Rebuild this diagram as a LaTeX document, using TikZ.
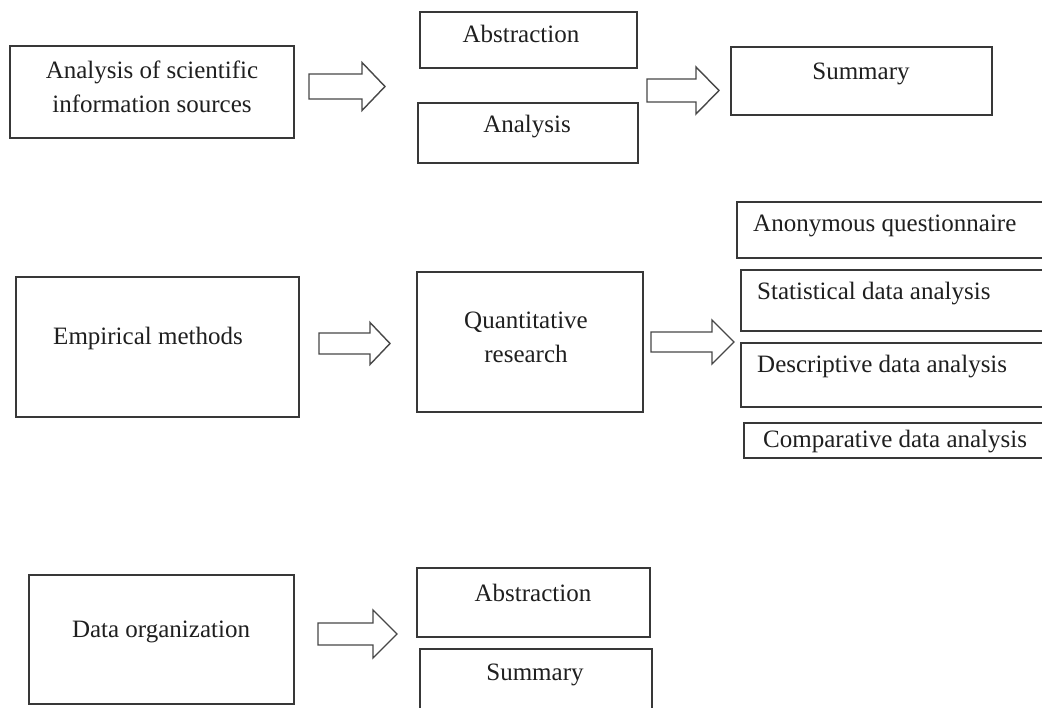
\documentclass[tikz,border=0pt]{standalone}
\usepackage{fontspec}
\setmainfont{Liberation Serif}
\usetikzlibrary{fit}
\tikzset{
  box/.style={draw=black!78, line width=1.3pt, inner sep=0pt, fill=none},
  lbl/.style={anchor=base, inner sep=0pt, font=\fontsize{25}{33}\selectfont, text=black!88},
  lbl2/.style={anchor=center, inner sep=0pt, align=center, font=\fontsize{25}{34}\selectfont, text=black!88},
  barrow/.style={draw=black!72, line width=1.4pt, line join=miter, fill=white},
}
% \blockarrow{x0}{xbase}{xtip}{ycenter}{shaft half}{head half}
\newcommand\blockarrow[6]{%
  \draw[barrow] (#1,#4-#5) -- (#2,#4-#5) -- (#2,#4-#6) -- (#3,#4) -- (#2,#4+#6) -- (#2,#4+#5) -- (#1,#4+#5) -- cycle;}
\begin{document}
\begin{tikzpicture}[x=1pt,y=-1pt]
\useasboundingbox (0,0) rectangle (1042,708);
\clip (0,0) rectangle (1042,708);
\fill[white] (0,0) rectangle (1042,708);

% row 1
\node[box, fit={(10,46) (294,138)}] (src) {};
\node[lbl2] (srct) at (152,86.5) {Analysis of scientific\\information sources};
\node[box, fit={(420,12) (637,68)}] (abs1) {};
\node[lbl] (abs1t) at (521,43) {Abstraction};
\node[box, fit={(418,103) (638,163)}] (ana1) {};
\node[lbl] (ana1t) at (527,133) {Analysis};
\node[box, fit={(731,47) (992,115)}] (sum1) {};
\node[lbl] (sum1t) at (861,80) {Summary};
\blockarrow{309}{362}{385}{86.5}{12.5}{24}
\blockarrow{647}{696}{719}{90.5}{11.5}{23.5}

% row 2
\node[box, fit={(16,277) (299,417)}] (emp) {};
\node[lbl] (empt) at (148,345) {Empirical methods};
\node[box, fit={(417,272) (643,412)}] (quant) {};
\node[lbl2] (quantt) at (526,337) {Quantitative\\research};
\node[box, fit={(737,202) (1052,258)}] (anon) {};
\node[lbl, anchor=base west] (anont) at (753,232) {Anonymous questionnaire};
\node[box, fit={(741,270) (1052,331)}] (stat) {};
\node[lbl, anchor=base west] (statt) at (757,300) {Statistical data analysis};
\node[box, fit={(741,343) (1052,407)}] (desc) {};
\node[lbl, anchor=base west] (desct) at (757,373) {Descriptive data analysis};
\node[box, fit={(744,423) (1052,458)}] (comp) {};
\node[lbl, anchor=base west] (compt) at (763,448) {Comparative data analysis};
\blockarrow{319}{370}{390}{343.5}{10.5}{21}
\blockarrow{651}{712}{734}{342}{10}{22}

% row 3
\node[box, fit={(29,575) (294,704)}] (dorg) {};
\node[lbl] (dorgt) at (161,637) {Data organization};
\node[box, fit={(417,568) (650,637)}] (abs2) {};
\node[lbl] (abs2t) at (533,601) {Abstraction};
\node[box, fit={(420,649) (652,725)}] (sum2) {};
\node[lbl] (sum2t) at (535,680) {Summary};
\blockarrow{318}{373}{397}{634}{11}{24}
\end{tikzpicture}
\end{document}
